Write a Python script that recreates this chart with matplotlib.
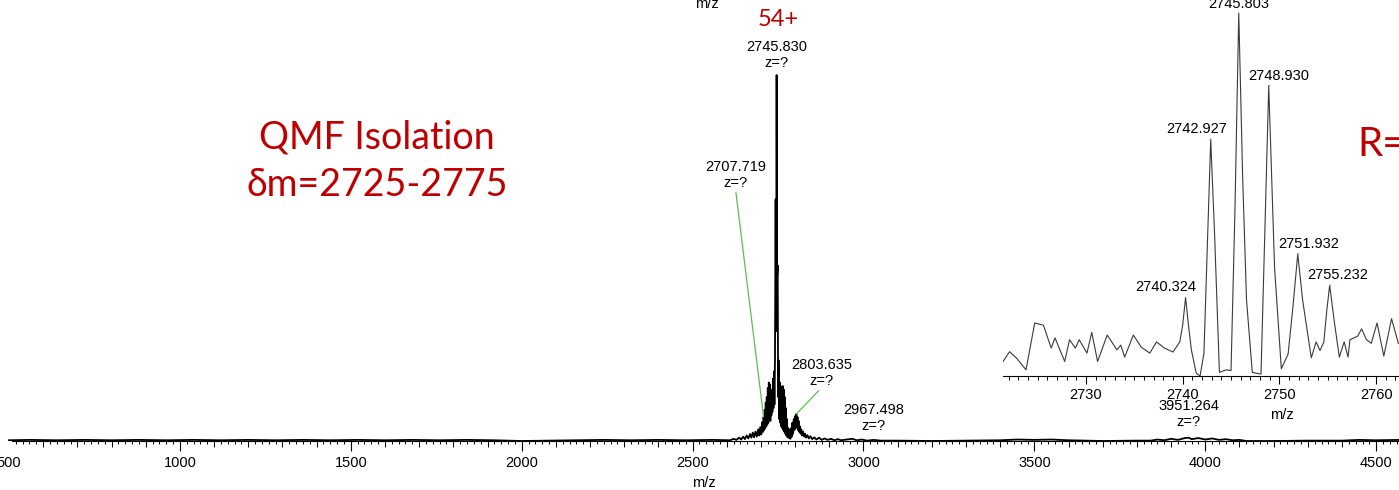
import matplotlib
matplotlib.use("Agg")
import matplotlib.pyplot as plt
from matplotlib.ticker import MultipleLocator

plt.rcParams['font.family'] = ['Liberation Sans', 'DejaVu Sans']

# full scan, intensity in % of base peak
main_mz = [497, 560, 640, 720, 800, 880, 960, 1040, 1120, 1200, 1280, 1360, 1440, 1520,
           1600, 1680, 1760, 1840, 1920, 1960, 2000, 2080, 2160, 2240, 2320, 2400, 2480,
           2560, 2600, 2610, 2620, 2628, 2636, 2642, 2648, 2653, 2658, 2663, 2668, 2672,
           2676, 2680, 2684, 2688, 2692, 2695, 2698, 2701, 2704, 2706, 2707.7, 2709.5,
           2711, 2712.5, 2714, 2715.5, 2717, 2718.5, 2720, 2721.5, 2723, 2724.5, 2726,
           2727.5, 2729, 2730.5, 2732, 2733.5, 2735, 2736.5, 2738, 2739.5, 2741, 2742.9,
           2744.3, 2745.8, 2747.3, 2748.9, 2750.3, 2751.9, 2753.3, 2755.2, 2756.6, 2758,
           2759.5, 2761, 2762.5, 2764, 2765.5, 2767, 2768.5, 2770, 2771.5, 2773, 2774.5,
           2776, 2778, 2780, 2782, 2784, 2786, 2788, 2790, 2792, 2794, 2796, 2798, 2800,
           2801.5, 2803.6, 2805, 2807, 2808.5, 2810, 2812, 2814, 2816, 2818, 2820, 2823,
           2826, 2829, 2832, 2836, 2840, 2845, 2850, 2856, 2862, 2870, 2878, 2886, 2895,
           2905, 2915, 2925, 2935, 2950, 2967.5, 2980, 2995, 3010, 3030, 3050, 3100, 3200,
           3300, 3400, 3450, 3500, 3550, 3600, 3700, 3800, 3840, 3860, 3880, 3900, 3920,
           3940, 3951.3, 3960, 3980, 4000, 4020, 4040, 4060, 4080, 4100, 4120, 4200, 4300,
           4400, 4450, 4500, 4567]
main_int = [0.2, 0.3, 0.2, 0.3, 0.2, 0.3, 0.2, 0.3, 0.2, 0.3, 0.2, 0.3, 0.2, 0.3,
            0.2, 0.3, 0.2, 0.3, 0.2, 0.1, 0.0, 0.1, 0.2, 0.3, 0.2, 0.3, 0.2,
            0.3, 0.2, 0.2, 0.6, 0.3, 0.9, 0.4, 1.2, 0.5, 1.5, 0.7, 1.9, 0.9,
            2.3, 1.0, 2.6, 1.2, 3.2, 1.5, 3.8, 1.8, 5.2, 2.5, 6.6, 3.0,
            8.5, 3.5, 10.5, 4.0, 12.0, 4.5, 14.5, 5.0, 16.0, 6.0, 15.5,
            5.5, 13.0, 7.0, 14.0, 8.0, 17.0, 9.0, 19.0, 10.0, 22.0, 66.0,
            30.0, 100.0, 45.0, 48.0, 12.0, 22.0, 6.0, 16.0, 5.0, 15.0,
            4.0, 14.5, 3.5, 15.0, 3.0, 14.0, 2.5, 12.0, 2.0, 9.0, 1.5,
            6.0, 1.0, 3.5, 0.8, 3.0, 0.6, 3.5, 1.2, 5.0, 2.0, 6.0, 3.0, 6.8,
            3.5, 7.4, 4.0, 6.5, 3.0, 5.5, 2.5, 4.0, 2.0, 3.2, 1.5, 2.6,
            1.2, 2.0, 0.9, 1.6, 0.7, 1.3, 0.5, 1.0, 0.4, 0.9, 0.3, 0.7, 0.3,
            0.6, 0.2, 0.5, 0.2, 0.4, 0.6, 0.2, 0.4, 0.1, 0.3, 0.1, 0.1, 0.0,
            0.1, 0.2, 0.4, 0.3, 0.4, 0.2, 0.0, 0.1, 0.1, 0.4, 0.2, 0.6, 0.3,
            0.8, 0.9, 0.5, 0.8, 0.4, 0.7, 0.3, 0.5, 0.2, 0.3, 0.0, 0.0, 0.1,
            0.1, 0.3, 0.2, 0.3]

# zoom on the isolated charge state
inset_mz = [2721.4, 2722.1, 2722.8, 2723.8, 2724.7, 2725.6, 2726.4, 2726.8, 2727.8, 2728.3,
            2728.9, 2729.3, 2730.1, 2730.6, 2731.2, 2732.2, 2733.2, 2733.6, 2734.0, 2734.9,
            2735.7, 2736.6, 2737.3, 2738.1, 2739.0, 2739.7, 2740.0, 2740.3, 2740.6, 2740.9,
            2741.4, 2741.8, 2742.2, 2742.6, 2742.9, 2743.3, 2743.8, 2744.5, 2745.0, 2745.4,
            2745.8, 2746.2, 2746.6, 2747.2, 2748.1, 2748.5, 2748.9, 2749.5, 2750.2, 2750.9,
            2751.4, 2751.9, 2752.4, 2753.3, 2753.8, 2754.2, 2754.6, 2754.9, 2755.2, 2755.7,
            2756.2, 2756.7, 2757.1, 2757.3, 2758.1, 2758.5, 2759.0, 2759.5, 2760.1, 2760.8,
            2761.6, 2762.3]
inset_int = [3.9, 6.7, 5.0, 1.7, 14.6, 14.0, 7.7, 10.5, 4.0, 10.0,
             7.7, 10.0, 6.3, 12.0, 4.0, 11.3, 7.2, 8.5, 5.2, 11.3,
             8.0, 6.3, 9.4, 7.7, 6.6, 9.4, 14.0, 21.6, 14.0, 7.2,
             0.8, 0.0, 6.3, 40.0, 65.2, 39.0, 1.0, 1.7, 1.5, 45.0,
             100.0, 55.0, 21.0, 1.0, 0.5, 40.0, 80.0, 30.0, 2.0, 6.0,
             19.0, 33.6, 21.0, 5.0, 9.4, 7.0, 9.4, 18.0, 25.0, 14.6,
             5.2, 9.4, 5.2, 10.0, 11.0, 13.0, 10.0, 9.0, 14.6, 5.5,
             15.8, 9.0]

# labelled peaks: (m/z, height, text, dx px, dy px, leader line)
main_labels = [(2745.83, 100.0, '2745.830\nz=?', 0, 5, False),
               (2707.72, 6.6, '2707.719\nz=?', -28, 227, True),
               (2803.64, 7.4, '2803.635\nz=?', 25, 26, True),
               (2967.50, 0.6, '2967.498\nz=?', 21, 6, False),
               (3951.26, 0.9, '3951.264\nz=?', 0, 9, False)]
inset_labels = [(2745.80, 100.0, '2745.803', 0, 2, False),
                (2748.93, 80.0, '2748.930', 10, 3, True),
                (2742.93, 65.2, '2742.927', -14, 3, True),
                (2751.93, 33.6, '2751.932', 11, 3, True),
                (2755.23, 25.0, '2755.232', 8, 3, True),
                (2740.32, 21.6, '2740.324', -20, 4, False)]

W, H = 1399, 490
fig = plt.figure(figsize=(W / 100, H / 100), dpi=100)
green = '#5cbf4f'
red = '#c00000'


def setup(ax):
    for s in ['left', 'right', 'top']:
        ax.spines[s].set_visible(False)
    ax.spines['bottom'].set_linewidth(0.8)
    ax.set_yticks([])
    ax.patch.set_visible(False)


# main spectrum
ax = fig.add_axes([8 / W, 49 / H, 1391 / W, 441 / H])
setup(ax)
ax.plot(main_mz, main_int, color='black', lw=1.3)
ax.set_xlim(497.1, 4566.7)
ax.set_ylim(0, 120.5)
ax.spines['bottom'].set_bounds(508, 4566.7)
ax.xaxis.set_major_locator(MultipleLocator(500))
ax.xaxis.set_minor_locator(MultipleLocator(20))
ax.tick_params(axis='x', which='major', length=7, width=0.8, labelsize=10.5, pad=4)
ax.tick_params(axis='x', which='minor', length=2.5, width=0.7)
ax.set_xlabel('m/z', fontsize=10.5, labelpad=4)
for loc, t in zip(ax.get_xticks(), ax.xaxis.get_major_ticks()):
    if loc < 505:
        t.tick1line.set_visible(False)

# 100-unit ticks
ax_mid = fig.add_axes(ax.get_position(), frameon=False)
ax_mid.set_xlim(ax.get_xlim())
ax_mid.set_yticks([])
ax_mid.xaxis.set_major_locator(MultipleLocator(100))
ax_mid.set_xticks([v for v in range(600, 4567, 100) if v % 500])
ax_mid.tick_params(axis='x', length=4.5, width=0.7, labelbottom=False)
ax_mid.patch.set_visible(False)

for mz, h, txt, dx, dy, lead in main_labels:
    ax.annotate(txt, xy=(mz, h), xytext=(dx, dy), textcoords='offset pixels',
                ha='center', va='bottom', fontsize=10.5, linespacing=1.15,
                arrowprops=dict(arrowstyle='-', color=green, lw=0.9, shrinkA=0, shrinkB=0,
                                relpos=(0.5, 0)) if lead else None)

# inset
axi = fig.add_axes([1003 / W, 114 / H, 396 / W, 376 / H])
setup(axi)
axi.plot(inset_mz, inset_int, color='#3a3a3a', lw=0.8)
axi.set_xlim(2721.42, 2762.37)
axi.set_ylim(0, 103.6)
axi.xaxis.set_major_locator(MultipleLocator(10))
axi.xaxis.set_minor_locator(MultipleLocator(1))
axi.tick_params(axis='x', which='major', length=5.5, width=0.8, labelsize=10.5, pad=3)
axi.tick_params(axis='x', which='minor', length=3, width=0.7)
axi.set_xlabel('m/z', fontsize=10.5)
axi.xaxis.set_label_coords(0.705, -0.085)

for mz, h, txt, dx, dy, lead in inset_labels:
    axi.annotate(txt, xy=(mz, h), xytext=(dx, dy), textcoords='offset pixels',
                 ha='center', va='bottom', fontsize=10.5,
                 arrowprops=dict(arrowstyle='-', color=green, lw=0.9, shrinkA=0, shrinkB=0,
                                 relpos=(0.5, 0)) if lead else None)

# overlay texts
fig.text(377 / W, 1 - 137 / H, 'QMF Isolation', color=red, fontsize=27,
         family='Lato', ha='center', va='center')
fig.text(377 / W, 1 - 185 / H, 'δm=2725-2775', color=red, fontsize=27,
         family='Lato', ha='center', va='center')
fig.text(778 / W, 1 - 20 / H, '54+', color=red, fontsize=17, family='Lato',
         ha='center', va='center')
fig.text(1357 / W, 1 - 145 / H, 'R=', color=red, fontsize=29, family='Lato',
         ha='left', va='center')
fig.text(707 / W, 1 - 4 / H, 'm/z', fontsize=10.5, ha='center', va='center')

fig.savefig('out.png', dpi=100)
